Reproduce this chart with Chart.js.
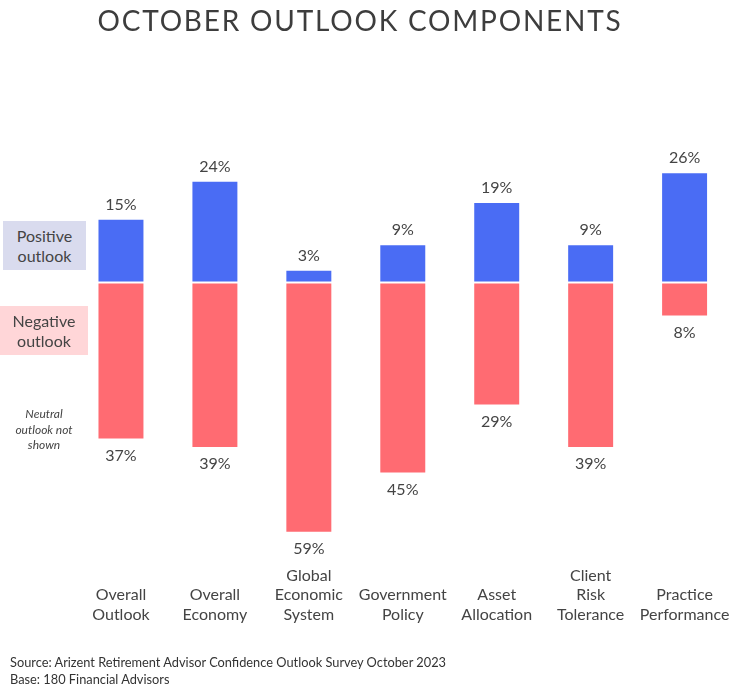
<!DOCTYPE html>
<html>
<head>
<meta charset="utf-8">
<script src="https://cdn.jsdelivr.net/npm/chart.js@4.4.0/dist/chart.umd.min.js"></script>
<style>
  body { margin: 0; background: #fff; font-family: Lato, sans-serif; color: #444; }
  #wrap { position: relative; width: 740px; height: 698px; }
  #chart { position: absolute; left: 0; top: 0; }
  .title { position: absolute; left: 0; width: 720px; top: 3px; text-align: center; font-size: 28px; letter-spacing: 1.8px; color: #3d3d3d; }
  .key { position: absolute; text-align: center; font-size: 16px; line-height: 20px; padding-top: 5px; box-sizing: border-box; }
  .pos { left: 3px; top: 221px; width: 83px; height: 49px; background: #d9dbee; }
  .neg { left: 0; top: 306px; width: 88px; height: 49px; background: #ffd6d8; }
  .note { position: absolute; left: 0; width: 88px; top: 406px; text-align: center; font-size: 12px; font-style: italic; line-height: 15.5px; }
  .source { position: absolute; left: 10px; top: 654px; font-size: 12.8px; line-height: 17px; color: #333; }
</style>
</head>
<body>
<div id="wrap">
  <canvas id="chart" width="740" height="698"></canvas>
  <div class="title">OCTOBER OUTLOOK COMPONENTS</div>
  <div class="key pos">Positive<br>outlook</div>
  <div class="key neg">Negative<br>outlook</div>
  <div class="note">Neutral<br>outlook not<br>shown</div>
  <div class="source">Source: Arizent Retirement Advisor Confidence Outlook Survey October 2023<br>Base: 180 Financial Advisors</div>
</div>
<script>
// Categories (multi-line tick labels) and the two outlook series, in percent
const categories = [
  ['Overall', 'Outlook'],
  ['Overall', 'Economy'],
  ['Global', 'Economic', 'System'],
  ['Government', 'Policy'],
  ['Asset', 'Allocation'],
  ['Client', 'Risk', 'Tolerance'],
  ['Practice', 'Performance']
];
const positive = [15, 24, 3, 9, 19, 9, 26];
const negative = [37, 39, 59, 45, 29, 39, 8];

const BLUE = '#4a6cf4';
const RED = '#ff6b72';

// Writes the percent value above positive bars and below negative ones
const valueLabels = {
  id: 'valueLabels',
  afterDatasetsDraw(chart) {
    const ctx = chart.ctx;
    ctx.save();
    ctx.font = '16px Lato, sans-serif';
    ctx.fillStyle = '#444';
    ctx.textAlign = 'center';
    ctx.textBaseline = 'middle';
    chart.data.datasets.forEach((ds, i) => {
      chart.getDatasetMeta(i).data.forEach((bar, j) => {
        const v = ds.data[j];
        const y = v >= 0 ? bar.y - 14 : bar.y + 16;
        ctx.fillText(Math.abs(v) + '%', bar.x, y);
      });
    });
    ctx.restore();
  }
};

new Chart(document.getElementById('chart'), {
  type: 'bar',
  data: {
    labels: categories,
    datasets: [
      {
        label: 'Positive outlook',
        data: positive,
        backgroundColor: BLUE,
        borderColor: 'rgba(255,255,255,0.3)',
        borderWidth: 1,
        borderSkipped: false
      },
      {
        label: 'Negative outlook',
        data: negative.map(v => -v),
        backgroundColor: RED,
        borderColor: 'rgba(255,255,255,0.3)',
        borderWidth: 1,
        borderSkipped: false
      }
    ]
  },
  options: {
    responsive: false,
    animation: false,
    devicePixelRatio: 1,
    categoryPercentage: 1,
    barPercentage: 0.5,
    layout: { padding: { top: 134, left: 74, right: 8, bottom: 54 } },
    plugins: {
      legend: { display: false },
      tooltip: { enabled: false }
    },
    scales: {
      x: {
        stacked: true,
        grid: { display: false, drawTicks: false },
        border: { display: false },
        ticks: {
          color: '#444',
          font: { family: 'Lato, sans-serif', size: 16, lineHeight: 1.22 },
          crossAlign: 'far',
          padding: 10,
          maxRotation: 0,
          autoSkip: false
        }
      },
      y: {
        stacked: true,
        display: false,
        min: -66.7,
        max: 35
      }
    }
  },
  plugins: [valueLabels]
});
</script>
</body>
</html>
